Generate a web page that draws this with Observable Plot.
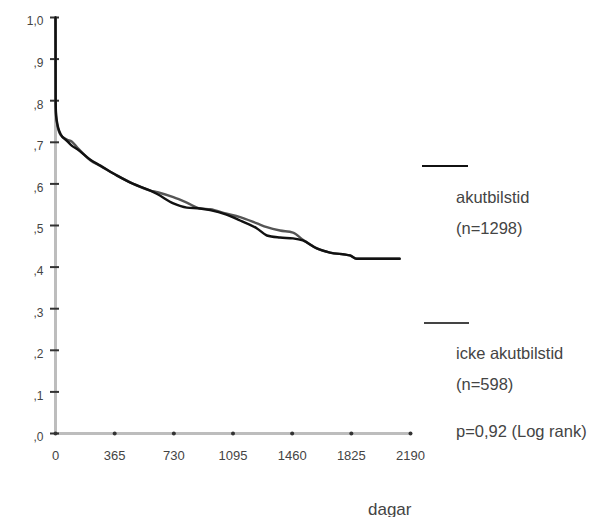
<!DOCTYPE html>
<html>
<head>
<meta charset="utf-8">
<script src="https://cdn.jsdelivr.net/npm/d3@7"></script>
<script src="https://cdn.jsdelivr.net/npm/@observablehq/plot@0.6"></script>
<style>
  html, body { margin: 0; padding: 0; background: #fff; }
  #wrap { position: relative; width: 595px; height: 517px; font-family: "Liberation Sans", Arial, sans-serif; color: #444; }
  .lg { position: absolute; font-size: 15px; white-space: nowrap; line-height: 1; }
  .sw { position: absolute; height: 2px; }
</style>
</head>
<body>
<div id="wrap"></div>
<script>
// Survival time (days) and cumulative survival
const akutTime = [0, 1, 3, 8, 31, 72, 100, 133, 215, 277, 380, 480, 585, 630, 727, 810, 892, 954, 1050, 1139, 1243, 1304, 1385, 1465, 1526, 1612, 1693, 1816, 1858, 2123];
const akutSurv = [1.0, 0.80, 0.77, 0.752, 0.72, 0.703, 0.692, 0.684, 0.658, 0.644, 0.62, 0.60, 0.584, 0.575, 0.553, 0.543, 0.541, 0.537, 0.527, 0.512, 0.493, 0.476, 0.471, 0.469, 0.464, 0.445, 0.435, 0.428, 0.42, 0.42];
const ickeTime = [0, 1, 3, 8, 31, 72, 100, 133, 215, 277, 380, 480, 585, 630, 727, 810, 892, 954, 1050, 1139, 1243, 1304, 1385, 1465, 1526, 1612, 1693, 1816, 1858, 2123];
const ickeSurv = [1.0, 0.79, 0.765, 0.748, 0.718, 0.706, 0.702, 0.688, 0.657, 0.643, 0.62, 0.60, 0.584, 0.58, 0.568, 0.555, 0.541, 0.539, 0.529, 0.52, 0.505, 0.496, 0.488, 0.483, 0.466, 0.445, 0.435, 0.428, 0.42, 0.42];

const xTicks = [0, 365, 730, 1095, 1460, 1825, 2190];
const yTicks = [0, 0.1, 0.2, 0.3, 0.4, 0.5, 0.6, 0.7, 0.8, 0.9, 1.0];
const yTickLabels = [",0", ",1", ",2", ",3", ",4", ",5", ",6", ",7", ",8", ",9", "1,0"];

const legendItems = [
  {label: "akutbilstid", n: "(n=1298)", color: "#111"},
  {label: "icke akutbilstid", n: "(n=598)", color: "#444"}
];
const pText = "p=0,92 (Log rank)";
const xLabel = "dagar";

const akut = akutTime.map((t, i) => ({t, s: akutSurv[i]}));
const icke = ickeTime.map((t, i) => ({t, s: ickeSurv[i]}));

const chart = Plot.plot({
  width: 595,
  height: 517,
  marginLeft: 55,
  marginRight: 185,
  marginTop: 17,
  marginBottom: 84,
  style: {fontFamily: "Liberation Sans, Arial, sans-serif", fontSize: "12px", color: "#444", background: "#fff"},
  x: {domain: [0, 2190], label: null},
  y: {domain: [0, 1], label: null},
  marks: [
    Plot.ruleX([0], {stroke: "#bdbdbd", strokeWidth: 3}),
    Plot.ruleY([0], {stroke: "#bdbdbd", strokeWidth: 3}),
    Plot.axisY(yTicks, {tickSize: 9, dx: 4, tickFormat: () => "", stroke: "#333", strokeWidth: 2, label: null}),
    Plot.axisY(yTicks, {tickSize: 0, tickPadding: 12, dy: 4, tickFormat: d => yTickLabels[yTicks.indexOf(d)], fill: "#444", fontSize: 12, label: null}),
    Plot.axisX(xTicks, {tickSize: 0, tickPadding: 14, dy: 3, tickFormat: d => String(d), fill: "#444", fontSize: 13, label: null}),
    Plot.dot(xTicks, {x: d => d, y: () => 0, r: 2, fill: "#333", stroke: null}),
    Plot.line(icke, {x: "t", y: "s", curve: "monotone-x", stroke: "#555", strokeWidth: 2.4}),
    Plot.line(akut, {x: "t", y: "s", curve: "monotone-x", stroke: "#111", strokeWidth: 2.4})
  ]
});

const wrap = document.getElementById("wrap");
wrap.appendChild(chart);

function addText(txt, left, cy, size) {
  const d = document.createElement("div");
  d.className = "lg";
  d.textContent = txt;
  d.style.left = left + "px";
  d.style.top = (cy - size / 2) + "px";
  d.style.fontSize = size + "px";
  wrap.appendChild(d);
}
function addSwatch(color, left, top, w) {
  const d = document.createElement("div");
  d.className = "sw";
  d.style.left = left + "px";
  d.style.top = top + "px";
  d.style.width = w + "px";
  d.style.background = color;
  wrap.appendChild(d);
}
addSwatch(legendItems[0].color, 422, 165, 46);
addText(legendItems[0].label, 456, 197, 16.5);
addText(legendItems[0].n, 456, 228, 16.5);
addSwatch(legendItems[1].color, 424, 322, 45);
addText(legendItems[1].label, 456, 353, 16.5);
addText(legendItems[1].n, 456, 384, 16.5);
addText(pText, 456, 431, 16.5);
addText(xLabel, 368, 509, 17);
</script>
</body>
</html>
